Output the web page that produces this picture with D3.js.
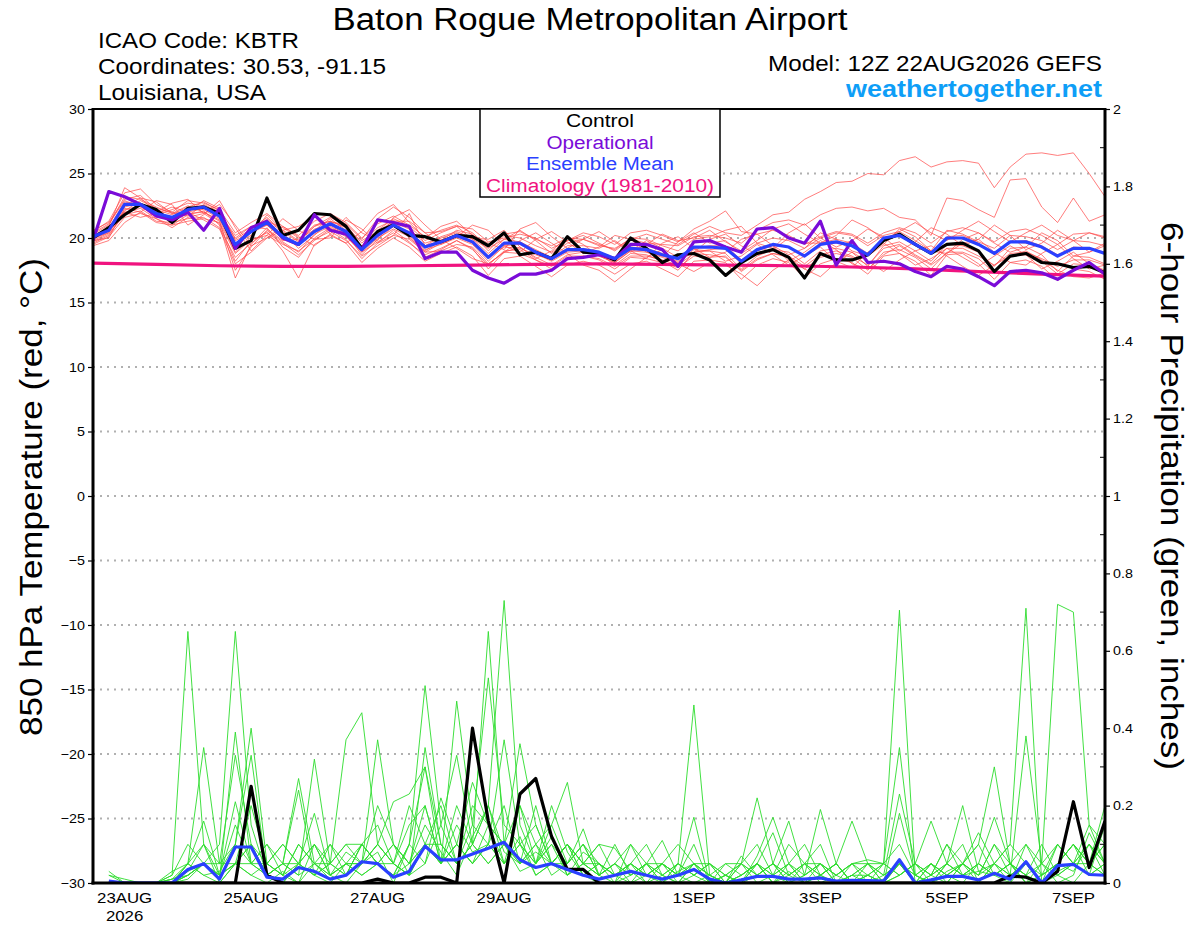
<!DOCTYPE html>
<html>
<head>
<meta charset="utf-8">
<script src="https://cdn.jsdelivr.net/npm/d3@7"></script>
<style>
  body { margin: 0; background: #fff; }
  svg { font-family: "Liberation Sans", Arial, Helvetica, sans-serif; }
</style>
</head>
<body>
<svg id="chart" width="1200" height="927"></svg>
<script>
// --- Dados ---

// eixo x: datas dos rótulos
const tickDates = ['2026-08-23', '2026-08-25', '2026-08-27', '2026-08-29', '2026-09-01', '2026-09-03', '2026-09-05', '2026-09-07'];
const tickLabels = ['23AUG', '25AUG', '27AUG', '29AUG', '1SEP', '3SEP', '5SEP', '7SEP'];

// temperatura 850 hPa, de 6 em 6 horas a partir de 12Z 22AUG
const controlTemp = [20.0,20.8,21.8,22.6,22.2, 21.2,22.3,22.4,21.9,19.2, 19.8,23.1,20.2,20.6,21.9, 21.8,20.9,19.2,20.5,21.0,
  20.2,20.1,19.7,20.2,20.1, 19.4,20.4,18.7,18.9,18.4, 20.1,18.9,18.8,18.3,20.0, 19.2,18.1,18.7,18.8,18.3,
  17.1,18.1,18.8,19.1,18.5, 16.9,18.8,18.3,18.3,18.7, 19.8,20.3,19.5,18.8,19.5, 19.6,19.0,17.4,18.6,18.8,
  18.1,18.0,17.7,17.8,17.3];
const operTemp = [19.8,23.6,23.2,22.6,21.7, 21.4,22.0,20.6,22.3,19.2, 20.8,21.3,20.0,19.5,21.8, 20.6,20.3,19.1,21.4,21.2,
  20.9,18.4,18.9,18.9,17.5, 16.9,16.5,17.2,17.2,17.5, 18.4,18.5,18.7,18.4,19.5, 19.5,19.1,17.8,19.7,19.8,
  19.3,18.9,20.7,20.8,20.0, 19.6,21.3,17.9,19.8,18.1, 18.2,18.0,17.4,17.0,17.8, 17.6,17.0,16.3,17.4,17.5,
  17.3,16.8,17.5,18.1,17.2];
const meanTemp = [20.1,20.6,22.6,22.6,21.9, 21.6,22.2,22.4,21.7,19.5, 20.5,21.2,20.1,19.5,20.5, 21.1,20.5,19.1,20.2,21.0,
  20.4,19.3,19.7,20.2,19.7, 18.5,19.6,19.6,18.9,18.4, 19.1,19.1,18.9,18.4,19.2, 19.1,18.7,18.4,19.3,19.3,
  19.2,18.2,19.1,19.5,19.3, 18.6,19.5,19.7,19.4,18.7, 20.0,20.2,19.5,18.8,20.0, 20.0,19.5,18.8,19.7,19.7,
  19.3,18.6,19.2,19.2,18.8];
// climatologia, um valor por dia (12Z)
const climTemp = [18.05,17.95,17.85,17.8,17.8,17.85,17.9,17.95,18.0,17.95,17.9,17.85,17.75,17.6,17.4,17.2,17.05];

// membros do ensemble (temperatura)
const memberTemp = [
  [20.3,21.0,23.2,23.0,22.4, 21.9,22.5,22.0,21.4,18.9, 20.1,21.8,20.6,19.8,20.9, 21.6,21.0,19.6,20.8,21.4, 20.0,19.0,19.8,20.6,20.3, 19.0,20.2,20.0,19.4,18.9, 19.8,20.2,19.6,19.0,19.9, 20.3,19.9,19.5,20.3,20.9, 20.4,20.2,21.0,21.8,22.0, 23.0,23.6,24.3,24.4,25.0, 24.9,26.0,26.3,25.5,25.9, 26.0,25.8,23.9,25.5,26.5, 26.6,26.4,26.6,25.0,23.2],
  [20.0,20.4,22.1,22.9,22.3, 22.0,21.7,22.6,22.0,20.0, 20.9,20.7,19.8,19.9,21.0, 21.3,20.3,19.4,20.6,21.5, 20.9,19.8,20.4,20.9,19.9, 19.2,19.9,20.6,19.8,18.8, 19.6,19.9,19.4,19.2,19.9, 19.6,19.5,19.4,20.1,20.2, 20.0,19.6,20.6,21.2,21.4, 21.0,21.8,22.3,22.4,22.1, 22.3,21.6,21.4,20.2,23.1, 22.9,22.2,21.6,24.5,24.6, 22.4,21.2,23.1,21.3,21.8],
  [19.6,20.2,22.0,22.3,21.5, 20.8,21.6,21.9,21.1,18.2, 19.8,20.4,19.6,18.7,19.8, 20.7,19.9,18.4,19.6,20.6, 19.7,18.5,19.1,19.8,19.1, 17.9,19.0,19.1,18.3,17.6, 18.4,18.6,18.3,17.6,18.5, 18.4,18.1,17.7,18.6,18.5, 18.6,17.4,18.3,18.8,18.6, 17.8,18.7,19.0,18.6,17.9, 19.2,19.5,18.7,18.0,19.2, 19.2,18.6,17.9,18.8,18.9, 18.4,17.8,18.3,18.3,17.9],
  [20.5,21.3,23.5,23.8,22.6, 22.0,22.9,22.7,22.2,20.4, 21.2,21.9,20.9,20.2,21.3, 21.9,21.2,20.0,21.1,21.7, 21.0,20.1,20.6,21.0,20.4, 19.3,20.3,20.5,19.9,19.4, 20.0,19.9,19.5,19.1,20.0, 19.9,19.4,19.0,19.9,20.1, 20.6,20.9,19.6,19.2,20.4, 21.1,20.0,19.3,19.8,20.7, 20.1,19.0,19.7,20.8,20.3, 19.4,19.9,21.0,20.2,19.1, 19.6,20.6,19.8,18.9,19.4],
  [19.8,20.0,22.3,22.0,21.2, 21.0,21.8,22.1,21.0,16.9, 19.5,20.8,19.3,18.5,20.0, 20.8,20.1,18.9,19.7,20.4, 19.6,18.7,19.2,19.8,19.2, 17.6,18.9,19.3,18.5,17.9, 18.7,18.9,18.8,17.9,18.8, 18.7,18.2,17.5,18.9,19.0, 18.8,17.6,18.6,19.1,18.9, 18.0,19.0,19.2,18.9,17.8, 19.4,19.7,19.0,18.2,19.5, 19.4,18.9,17.8,19.2,19.3, 18.7,17.4,18.6,18.5,18.0],
  [20.2,20.8,22.8,22.5,21.6, 21.5,22.0,22.9,22.3,19.6, 20.2,21.5,20.4,19.2,20.2, 21.3,20.9,19.3,20.4,21.2, 20.7,19.6,20.0,20.4,19.9, 18.8,19.9,19.7,19.1,18.5, 19.4,19.4,19.2,19.8,19.0, 18.4,19.6,20.1,19.2,18.5, 18.9,19.9,20.3,19.4,18.7, 19.2,20.4,19.9,19.0,18.6, 19.5,20.7,20.1,19.0,18.8, 19.9,20.4,19.6,18.9,19.3, 20.4,19.8,18.6,18.9,19.6],
  [19.9,20.5,22.4,22.7,22.1, 21.4,22.3,22.2,21.5,19.1, 20.6,21.0,19.9,19.4,20.7, 21.0,20.3,18.7,19.9,20.9, 20.2,19.1,19.5,20.0,19.5, 18.2,19.4,19.5,18.8,18.2, 18.9,19.0,18.6,18.1,19.0, 18.9,18.5,18.1,19.1,19.0, 18.2,18.6,19.5,18.7,17.9, 18.6,19.3,18.2,17.7,18.9, 19.6,18.8,17.9,18.4,19.2, 18.5,17.8,18.6,19.4,18.7, 17.6,18.2,18.9,18.0,17.5],
  [19.7,20.3,21.8,22.1,21.3, 21.2,21.5,21.6,20.8,18.5, 19.6,20.5,19.0,16.9,19.5, 20.2,19.6,18.1,19.2,20.0, 19.3,18.2,18.8,19.3,18.6, 17.1,18.4,18.6,17.8,17.0, 17.9,18.2,17.9,17.2,18.0, 18.2,17.6,17.0,18.2,18.3, 18.1,16.8,17.9,18.4,18.1, 16.9,18.0,18.4,18.1,17.2, 18.6,18.8,18.2,17.1,18.7, 18.8,18.0,16.8,18.1,18.3, 17.8,16.7,17.6,17.4,16.8],
  [20.4,21.1,22.9,22.4,21.8, 22.2,22.7,22.5,21.9,20.2, 20.9,21.3,20.8,20.0,20.6, 21.5,20.6,19.8,20.5,21.3, 21.3,20.4,19.5,20.1,21.0, 20.6,19.4,18.9,19.9,20.5, 19.7,18.8,19.3,20.2,19.9, 18.9,18.6,19.7,20.4,19.6, 19.8,18.8,19.6,20.0,19.8, 19.2,20.0,20.4,20.2,19.4, 20.2,20.5,19.8,19.0,20.6, 20.3,19.7,19.2,20.2,20.1, 19.8,19.1,19.8,19.7,19.4],
  [20.0,20.7,22.5,23.1,22.8, 21.9,22.0,22.3,21.8,19.8, 20.4,21.0,20.0,19.6,20.4, 21.2,21.1,19.9,21.5,22.4, 21.6,20.4,20.5,20.9,20.7, 19.7,20.0,20.3,20.0,19.2, 19.8,20.4,20.1,19.5,20.4, 20.6,20.2,19.7,20.7,21.3, 22.1,20.5,20.3,20.6,20.2, 19.5,20.1,20.5,20.3,19.6, 20.4,20.8,20.4,19.6,20.5, 20.8,20.4,19.7,20.5,20.7, 20.2,19.5,20.3,20.4,20.0],
  [19.5,20.1,21.6,21.9,21.5, 21.0,21.3,21.5,21.2,18.8, 19.9,20.2,19.5,19.0,19.9, 20.5,19.8,18.6,19.4,20.2, 19.9,18.9,19.0,19.5,19.3, 18.0,18.9,18.8,18.3,17.8, 18.6,18.6,18.4,17.8,18.6, 18.6,18.3,17.9,18.8,18.7, 18.5,17.5,18.4,18.8,18.5, 17.6,18.5,18.8,18.5,17.5, 18.9,19.1,18.5,17.6,18.9, 18.9,18.4,17.3,18.6,18.7, 18.2,17.2,18.0,17.9,17.4],
  [20.6,21.2,23.0,23.3,22.2, 21.8,22.4,22.8,22.1,19.9, 20.7,21.6,20.5,19.7,20.9, 21.3,20.8,19.3,20.1,20.9, 20.5,19.4,20.1,20.5,20.0, 19.9,20.6,19.3,18.4,19.0, 20.1,19.5,18.6,18.1,19.0, 19.8,19.2,18.5,18.9,19.9, 20.3,19.4,18.7,19.1,20.0, 19.6,19.6,19.9,19.6,18.8, 20.0,20.3,19.6,18.8,20.1, 20.2,19.6,18.7,19.7,19.8, 19.4,18.7,19.3,19.2,18.9],
  [19.8,20.4,22.2,22.5,22.0, 21.3,21.9,22.0,21.3,17.5, 19.3,20.6,19.7,18.9,20.3, 20.9,20.2,18.9,20.0,20.7, 20.1,18.9,19.6,20.1,19.6, 18.4,19.3,19.2,18.7,18.3, 19.0,19.2,18.9,18.2,19.1, 19.0,18.6,18.2,18.9,19.1, 19.2,18.0,19.0,19.4,18.2, 18.9,19.8,19.1,18.0,17.6, 18.7,19.4,18.6,17.9,18.8, 19.6,19.9,18.9,18.1,17.9, 18.8,19.5,18.4,17.6,17.9],
  [19.4,19.8,21.2,22.0,22.9, 22.6,21.0,21.8,22.9,20.8, 19.0,20.2,21.5,20.6,19.9, 20.0,21.4,20.7,19.6,20.2, 21.9,19.4,19.8,20.3,19.7, 18.6,19.5,19.7,19.0,18.4, 19.2,19.1,18.9,18.5,19.3, 19.2,18.8,18.4,19.2,19.4, 19.4,18.3,19.1,19.5,19.3, 18.6,19.5,19.6,19.4,18.7, 20.0,20.2,19.5,18.8,19.9, 20.0,19.5,18.8,19.7,19.6, 19.3,18.6,19.2,19.2,18.8],
  [19.9,20.9,22.0,21.6,21.9, 22.4,22.0,21.4,20.7,18.0, 18.9,20.0,20.9,20.1,19.4, 20.3,21.6,20.4,19.8,21.6, 22.2,21.0,19.9,19.2,18.4, 18.0,18.9,19.8,20.4,19.6, 18.8,17.9,17.5,16.6,17.6, 18.5,19.1,18.0,17.4,18.1, 17.9,17.2,16.3,17.5,18.3, 17.6,17.0,18.1,18.9,18.2, 17.4,18.3,19.0,19.4,18.6, 17.8,17.1,17.9,18.6,19.0, 18.3,17.5,17.0,16.9,17.3],
  [20.0,20.9,23.9,23.1,22.0, 22.7,23.0,21.9,22.6,21.0, 19.4,20.0,20.6,20.9,21.7, 20.3,19.6,20.5,21.9,22.6, 21.2,20.0,20.9,21.3,20.2, 19.6,19.1,20.7,21.2,20.1, 19.2,19.9,20.5,19.7,18.9, 19.5,20.3,19.8,20.0,20.6, 19.7,19.0,19.8,20.7,21.1, 20.3,19.6,20.2,21.4,20.8, 19.9,20.5,21.2,20.4,19.8, 20.6,21.3,20.5,19.7,20.4, 21.0,20.2,19.8,20.4,20.1]
];

// precipitação em 6 h (polegadas), começa em 18Z 22AUG
const controlPrecip = [0,0,0,0,0,0,0,0, 0,0.25,0.02,0,0,0,0,0, 0,0.01,0,0,0.015,0.015,0,0.40, 0.16,0,0.23,0.27,0.12,0.035,0.035,0,
  0,0,0,0,0,0,0,0, 0,0,0,0,0,0,0,0, 0,0,0,0,0,0,0,0, 0,0.018,0.015,0,0.03,0.21,0.04,0.16];
const meanPrecip = [0.005,0,0,0,0,0.035,0.05,0.01, 0.093,0.093,0.015,0.01,0.04,0.03,0.01,0.02, 0.055,0.05,0.015,0.03,0.095,0.06,0.06,0.075, 0.09,0.105,0.06,0.04,0.05,0.035,0.02,0.01,
  0.02,0.03,0.02,0.01,0.02,0.035,0.01,0, 0.008,0.017,0.017,0.01,0.01,0.013,0.005,0.007, 0.006,0.005,0.06,0,0.008,0.017,0.017,0.008, 0.025,0.01,0.055,0,0.045,0.048,0.022,0.02];

const memberPrecip = [
  [0.03,0,0,0,0.02,0.65,0.1,0, 0.05,0.02,0,0.03,0,0.05,0.02,0, 0.05,0.08,0,0.1,0.51,0.15,0.05,0.1, 0.05,0.1,0.03,0.05,0.2,0.08,0.02,0, 0,0.02,0.05,0,0.03,0.05,0,0, 0,0.02,0.05,0.02,0,0.05,0.02,0, 0,0.01,0.05,0,0.02,0.05,0.2,0.03, 0.02,0,0.05,0,0.03,0.05,0.02,0.05],
  [0,0,0,0,0,0.05,0.35,0.05, 0.1,0.33,0.02,0,0.05,0.02,0,0.05, 0.02,0.05,0.1,0.02,0.1,0.05,0.15,0.08, 0.1,0.05,0.12,0.02,0.05,0.1,0.02,0.05, 0.02,0.05,0,0.02,0.05,0.46,0.02,0, 0.02,0.05,0,0.03,0,0.02,0.05,0, 0.02,0,0.05,0.02,0,0.03,0.05,0.1, 0.3,0.05,0,0.02,0.05,0.1,0.05,0.02],
  [0,0,0,0,0.01,0.05,0.16,0.02, 0.05,0.1,0.02,0.05,0.27,0.05,0.01,0.02, 0.1,0.05,0.02,0.05,0.15,0.08,0.02,0.12, 0.2,0.08,0.05,0.1,0.02,0.05,0.1,0.02, 0.05,0.02,0.05,0.11,0.02,0.17,0,0.02, 0,0.05,0.02,0,0.05,0.02,0,0.02, 0.05,0,0.02,0.05,0,0.02,0,0.05, 0.17,0.05,0.02,0,0.05,0.03,0.1,0.05],
  [0,0,0,0,0,0.02,0.05,0.1, 0.65,0.15,0.02,0,0.05,0.1,0.02,0.05, 0.05,0.1,0.05,0.02,0.35,0.1,0.05,0.2, 0.15,0.05,0.1,0.05,0.12,0.02,0.05,0.1, 0.09,0.03,0,0.05,0,0.02,0.05,0, 0.05,0.22,0.05,0,0.02,0.05,0,0.02, 0,0.02,0.05,0,0.05,0.02,0.05,0, 0.05,0.1,0.71,0,0.02,0.05,0.1,0.02],
  [0,0,0,0,0.02,0.1,0.05,0.01, 0.39,0.05,0.02,0.05,0.02,0.05,0.1,0.02, 0.05,0.1,0.05,0.15,0.2,0.05,0.47,0.15, 0.1,0.2,0.05,0.08,0.05,0.1,0.05,0.02, 0,0.1,0.05,0,0.05,0.02,0.05,0.02, 0,0.07,0.17,0.05,0,0.02,0.05,0, 0.02,0.05,0.1,0.02,0,0.05,0.02,0.03, 0.05,0.02,0.38,0.05,0,0.02,0.13,0.05],
  [0,0,0,0,0.01,0.03,0.1,0.05, 0.33,0.1,0.05,0.02,0.05,0.02,0.05,0.1, 0.1,0.05,0.02,0.1,0.05,0.15,0.33,0.1, 0.2,0.05,0.1,0.15,0.05,0.02,0.08,0.05, 0.02,0.05,0.02,0.05,0.02,0.05,0,0.05, 0.02,0.05,0.13,0.02,0.05,0,0.02,0.05, 0,0.05,0.02,0.05,0.02,0,0.05,0.02, 0.05,0,0.1,0.05,0.72,0.7,0.15,0.1],
  [0.02,0,0,0,0,0.05,0.1,0.02, 0.21,0.05,0.1,0.02,0.1,0.05,0.02,0.08, 0.05,0.1,0.05,0.02,0.1,0.05,0.1,0.26, 0.15,0.1,0.2,0.05,0.1,0.05,0.14,0.02, 0.05,0,0.02,0.05,0.1,0.05,0.02,0, 0.05,0.02,0.05,0.16,0.02,0.05,0,0.02, 0.05,0,0.02,0.05,0.02,0.1,0.02,0.05, 0.02,0.05,0,0.02,0.05,0.1,0.05,0.2],
  [0,0,0,0,0,0.02,0.05,0.01, 0.1,0.4,0.05,0.02,0,0.1,0.05,0.02, 0.1,0.15,0.05,0.2,0.1,0.05,0.2,0.1, 0.65,0.1,0.05,0.2,0.05,0.1,0.02,0.05, 0.02,0.05,0.1,0.02,0,0.05,0.02,0, 0.02,0.05,0,0.05,0.02,0.19,0.05,0, 0.02,0,0.05,0.02,0.05,0,0.05,0.02, 0.1,0.02,0.05,0,0.1,0.05,0.02,0.15],
  [0,0,0,0,0,0.05,0.02,0, 0.05,0.1,0.02,0.05,0.24,0.02,0.05,0.1, 0.05,0.2,0.1,0.05,0.1,0.2,0.05,0.15, 0.53,0.15,0.1,0.05,0.15,0.05,0.1,0.02, 0.05,0.1,0.02,0.05,0.02,0.1,0,0.02, 0.05,0,0.02,0.1,0.05,0.02,0.05,0.16, 0.05,0.02,0.05,0,0.02,0.05,0.1,0, 0.05,0.02,0.05,0.02,0.1,0.05,0.05,0.1],
  [0,0,0,0,0,0.02,0.05,0.02, 0.15,0.05,0.1,0.05,0.02,0.32,0.05,0.02, 0.1,0.05,0.02,0.1,0.3,0.1,0.05,0.1, 0.2,0.73,0.15,0.05,0.1,0.02,0.05,0.05, 0,0.05,0.02,0,0.05,0.02,0.05,0, 0.02,0.05,0,0.02,0.05,0.1,0,0.05, 0.02,0.05,0.705,0.02,0,0.05,0.02,0.05, 0.02,0.05,0,0.05,0.02,0,0.05,0.1],
  [0,0,0,0,0.01,0.02,0.05,0.05, 0.05,0.2,0.05,0.1,0.05,0.18,0.02,0.05, 0.02,0.05,0.1,0.05,0.2,0.05,0.1,0.05, 0.1,0.37,0.1,0.02,0.05,0.1,0.05,0.02, 0.1,0.02,0.05,0.02,0,0.05,0.02,0, 0.07,0.02,0.05,0,0.02,0.05,0.02,0.05, 0.06,0.05,0.35,0,0.05,0.02,0.05,0.13, 0.05,0.1,0.05,0,0.05,0.1,0.02,0.05],
  [0,0,0,0,0,0.01,0.05,0.02, 0.05,0.02,0.05,0.02,0.1,0.05,0.05,0.37, 0.44,0.1,0.21,0.23,0.3,0.05,0.1,0.05, 0.1,0.05,0.2,0.1,0.05,0.05,0.1,0.05, 0.02,0,0.05,0.02,0.05,0.02,0,0.02, 0,0.05,0.02,0.05,0,0.02,0.05,0, 0.05,0.02,0.23,0.05,0.02,0.1,0.05,0.02, 0.1,0.05,0.02,0.05,0.1,0.05,0.15,0.05],
  [0.02,0.01,0,0,0.03,0.05,0.02,0.03, 0.1,0.05,0.05,0.1,0.05,0.02,0.1,0.05, 0.05,0.37,0.1,0.05,0.1,0.1,0.05,0.1, 0.05,0.1,0.36,0.15,0.05,0.1,0.05,0.02, 0.05,0.02,0.05,0.05,0.02,0,0.02,0.05, 0.05,0.1,0.02,0.05,0.1,0.02,0,0.02, 0.02,0,0.18,0.02,0.05,0.02,0.05,0.1, 0.02,0.05,0.1,0.02,0.05,0.1,0.05,0.02],
  [0,0,0,0,0,0.03,0.05,0.02, 0.05,0.05,0.02,0.05,0.05,0.1,0.02,0.05, 0.1,0.05,0.05,0.02,0.05,0.22,0.1,0.05, 0.15,0.1,0.05,0.1,0.15,0.26,0.05,0.1, 0.02,0.05,0.02,0.05,0.02,0.05,0.05,0.02, 0.05,0.02,0.05,0.02,0.05,0.05,0.02,0.05, 0.05,0.05,0.02,0.05,0.16,0.05,0.02,0.05, 0.02,0.05,0.02,0.1,0.02,0.05,0.1,0.05]
];

// --- Layout ---

const plot = { left: 93, right: 1105, top: 109, bottom: 883 };
const svg = d3.select('#chart');

const t0 = Date.UTC(2026, 7, 22, 12);
const HOUR = 3600 * 1000;
const timeAt = i => new Date(t0 + i * 6 * HOUR);

const x = d3.scaleUtc()
  .domain([new Date(t0), new Date(t0 + 384 * HOUR)])
  .range([plot.left, plot.right]);
const yT = d3.scaleLinear().domain([-30, 30]).range([plot.bottom, plot.top]);
const yP = d3.scaleLinear().domain([0, 2]).range([plot.bottom, plot.top]);

// a fonte original é mais larga que a Liberation Sans: estica o texto
function fitWidth(sel, width) {
  sel.attr('textLength', width).attr('lengthAdjust', 'spacingAndGlyphs');
  return sel;
}
function widen(sel, k) {
  sel.each(function() {
    const w = this.getComputedTextLength();
    d3.select(this).attr('textLength', w * k).attr('lengthAdjust', 'spacingAndGlyphs');
  });
}

svg.append('clipPath').attr('id', 'clip')
  .append('rect')
  .attr('x', plot.left).attr('y', plot.top)
  .attr('width', plot.right - plot.left).attr('height', plot.bottom - plot.top);

// linhas de grade pontilhadas
svg.append('g')
  .selectAll('line')
  .data(d3.range(-25, 30, 5))
  .enter().append('line')
  .attr('x1', plot.left).attr('x2', plot.right)
  .attr('y1', d => yT(d)).attr('y2', d => yT(d))
  .attr('stroke', '#b0b0b0')
  .attr('stroke-width', 2)
  .attr('stroke-dasharray', '2,5');

const data = svg.append('g').attr('clip-path', 'url(#clip)');

const lineT = d3.line().x((d, i) => x(timeAt(i))).y(d => yT(d));
const lineP = d3.line().x((d, i) => x(timeAt(i + 1))).y(d => yP(d));
const lineClim = d3.line().x((d, i) => x(timeAt(i * 4))).y(d => yT(d));

// membros
data.append('g').selectAll('path')
  .data(memberTemp)
  .enter().append('path')
  .attr('d', lineT)
  .attr('fill', 'none')
  .attr('stroke', '#ff4a4a')
  .attr('stroke-opacity', 0.8)
  .attr('stroke-width', 0.9);

data.append('g').selectAll('path')
  .data(memberPrecip)
  .enter().append('path')
  .attr('d', lineP)
  .attr('fill', 'none')
  .attr('stroke', '#2cdc2c')
  .attr('stroke-width', 0.9);

function drawSeries(values, gen, color) {
  data.append('path')
    .datum(values)
    .attr('d', gen)
    .attr('fill', 'none')
    .attr('stroke', color)
    .attr('stroke-width', 3.2)
    .attr('stroke-linejoin', 'round');
}

drawSeries(controlPrecip, lineP, '#000');
drawSeries(meanPrecip, lineP, '#2a40ff');
drawSeries(climTemp, lineClim, '#f0137f');
drawSeries(controlTemp, lineT, '#000');
drawSeries(operTemp, lineT, '#7a0bd8');
drawSeries(meanTemp, lineT, '#2a40ff');

// --- Eixos ---

const leftAxis = svg.append('g')
  .attr('transform', `translate(${plot.left},0)`)
  .call(d3.axisLeft(yT).tickValues(d3.range(-30, 31, 5)).tickSize(5).tickPadding(3));
const rightAxis = svg.append('g')
  .attr('transform', `translate(${plot.right},0)`)
  .call(d3.axisRight(yP).tickValues(d3.range(0, 11).map(d => d / 5))
    .tickFormat(d => d3.format('~g')(+d.toFixed(1))).tickSize(5).tickPadding(3));

[leftAxis, rightAxis].forEach(a => {
  a.select('.domain').remove();
  a.selectAll('text').attr('font-size', 13).attr('font-family', '"Liberation Sans", Arial, sans-serif').attr('fill', '#000');
  a.selectAll('line').attr('stroke', '#000').attr('stroke-width', 1.2);
});
widen(leftAxis.selectAll('text'), 1.1);
widen(rightAxis.selectAll('text'), 1.1);

// marcas menores (0.1 pol.) por dentro do eixo direito
svg.append('g')
  .selectAll('line')
  .data(d3.range(0, 10).map(d => d / 5 + 0.1))
  .enter().append('line')
  .attr('x1', plot.right - 5).attr('x2', plot.right)
  .attr('y1', d => yP(d)).attr('y2', d => yP(d))
  .attr('stroke', '#000').attr('stroke-width', 1);

// moldura
svg.append('line').attr('x1', plot.left).attr('x2', plot.right).attr('y1', plot.top).attr('y2', plot.top)
  .attr('stroke', '#000').attr('stroke-width', 2);
svg.append('line').attr('x1', plot.left - 1.5).attr('x2', plot.right + 1.5).attr('y1', plot.bottom).attr('y2', plot.bottom)
  .attr('stroke', '#000').attr('stroke-width', 3);
[plot.left, plot.right].forEach(xx => {
  svg.append('line').attr('x1', xx).attr('x2', xx).attr('y1', plot.top - 1).attr('y2', plot.bottom + 1.5)
    .attr('stroke', '#000').attr('stroke-width', 3);
});

// rótulos do eixo x
const xLabels = svg.append('g').attr('font-size', 15);
xLabels.selectAll('text')
  .data(tickDates)
  .enter().append('text')
  .attr('x', d => x(new Date(d + 'T00:00:00Z')))
  .attr('y', 903)
  .attr('text-anchor', 'middle')
  .text((d, i) => tickLabels[i]);
xLabels.append('text')
  .attr('x', x(new Date(tickDates[0] + 'T00:00:00Z')))
  .attr('y', 921)
  .attr('text-anchor', 'middle')
  .text('2026');
widen(xLabels.selectAll('text'), 1.12);

// títulos dos eixos
fitWidth(svg.append('text')
  .attr('transform', `translate(42,497) rotate(-90)`)
  .attr('text-anchor', 'middle')
  .attr('font-size', 32)
  .text('850 hPa Temperature (red, °C)'), 478);
fitWidth(svg.append('text')
  .attr('transform', `translate(1161,496) rotate(90)`)
  .attr('text-anchor', 'middle')
  .attr('font-size', 32)
  .text('6-hour Precipitation (green, inches)'), 548);

// --- Cabeçalho ---

fitWidth(svg.append('text').attr('x', 590).attr('y', 30).attr('text-anchor', 'middle')
  .attr('font-size', 31).text('Baton Rogue Metropolitan Airport'), 515);

const info = ['ICAO Code: KBTR', 'Coordinates: 30.53, -91.15', 'Louisiana, USA'];
const infoWidths = [201, 288, 168];
svg.append('g').selectAll('text')
  .data(info)
  .enter().append('text')
  .attr('x', 98)
  .attr('y', (d, i) => 48 + i * 26)
  .attr('font-size', 22)
  .attr('textLength', (d, i) => infoWidths[i])
  .attr('lengthAdjust', 'spacingAndGlyphs')
  .text(d => d);

fitWidth(svg.append('text').attr('x', 1102).attr('y', 71).attr('text-anchor', 'end')
  .attr('font-size', 22).text('Model: 12Z 22AUG2026 GEFS'), 334);
fitWidth(svg.append('text').attr('x', 1102).attr('y', 97).attr('text-anchor', 'end')
  .attr('font-size', 24).attr('font-weight', 'bold').attr('fill', '#0e9ef7')
  .text('weathertogether.net'), 256);

// --- Legenda ---

const legendItems = [
  { label: 'Control', color: '#000', width: 68 },
  { label: 'Operational', color: '#7a0bd8', width: 107 },
  { label: 'Ensemble Mean', color: '#2a40ff', width: 148 },
  { label: 'Climatology (1981-2010)', color: '#f0137f', width: 228 }
];
const legend = svg.append('g');
legend.append('rect')
  .attr('x', 480).attr('y', plot.top)
  .attr('width', 240).attr('height', 88)
  .attr('fill', '#fff').attr('stroke', '#000').attr('stroke-width', 1.5);
legend.selectAll('text')
  .data(legendItems)
  .enter().append('text')
  .attr('x', 600)
  .attr('y', (d, i) => 127 + i * 21.5)
  .attr('text-anchor', 'middle')
  .attr('font-size', 18)
  .attr('fill', d => d.color)
  .attr('textLength', d => d.width)
  .attr('lengthAdjust', 'spacingAndGlyphs')
  .text(d => d.label);
</script>
</body>
</html>
